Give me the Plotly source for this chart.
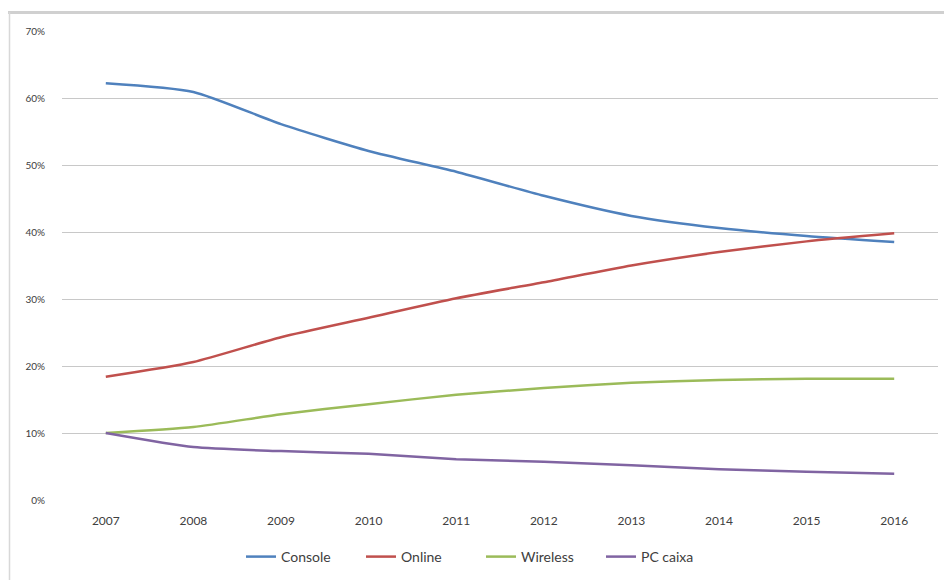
import plotly.graph_objects as go

years = ["2007", "2008", "2009", "2010", "2011", "2012", "2013", "2014", "2015", "2016"]
console = [0.622, 0.609, 0.561, 0.521, 0.490, 0.454, 0.424, 0.406, 0.394, 0.385]
online = [0.184, 0.206, 0.243, 0.272, 0.301, 0.325, 0.350, 0.370, 0.386, 0.398]
wireless = [0.100, 0.109, 0.128, 0.143, 0.157, 0.167, 0.175, 0.179, 0.181, 0.181]
pc_caixa = [0.100, 0.079, 0.073, 0.069, 0.061, 0.057, 0.052, 0.046, 0.042, 0.039]

series = [
    ("Console", console, "#4F81BD"),
    ("Online", online, "#C0504D"),
    ("Wireless", wireless, "#9BBB59"),
    ("PC caixa", pc_caixa, "#8064A2"),
]

fig = go.Figure()
for name, vals, color in series:
    fig.add_trace(go.Scatter(
        x=years, y=vals, name=name, mode="lines",
        line=dict(color=color, width=2.5, shape="spline", smoothing=0.6),
    ))

W, H = 944, 580
l, r, t, b = 62, 6, 31, 80
pw, ph = W - l - r, H - t - b

def px(x):
    return (x - l) / pw

def py(y):
    return (H - b - y) / ph

fig.update_layout(
    width=W, height=H,
    margin=dict(l=l, r=r, t=t, b=b),
    paper_bgcolor="white", plot_bgcolor="white",
    font=dict(family="Lato, Open Sans, sans-serif", color="#404040", size=11),
    showlegend=True,
    legend=dict(orientation="h", x=px(241), xanchor="left", y=py(557), yanchor="middle",
                font=dict(size=14, color="#404040"), itemwidth=30, tracegroupgap=0,
                entrywidth=75, entrywidthmode="pixels"),
    xaxis=dict(type="category", range=[-0.5, 9.5], showgrid=False, zeroline=False, showline=False,
               ticks="", tickfont=dict(size=12, color="#404040"), ticklabelstandoff=12),
    yaxis=dict(range=[0, 0.7], dtick=0.1, tickformat=".0%", showgrid=True,
               gridcolor="#C8C8C8", gridwidth=1.2, zeroline=False, showline=False,
               ticks="", tickfont=dict(size=10, color="#404040"), ticklabelstandoff=16),
    shapes=[
        dict(type="line", xref="paper", yref="paper", x0=px(8), x1=px(944), y0=py(12.5), y1=py(12.5),
             line=dict(color="#D0D0D0", width=3)),
        dict(type="line", xref="paper", yref="paper", x0=px(9.5), x1=px(9.5), y0=py(12), y1=py(580),
             line=dict(color="#D8D8D8", width=1.5)),
    ],
)

fig.write_html("out.html")
